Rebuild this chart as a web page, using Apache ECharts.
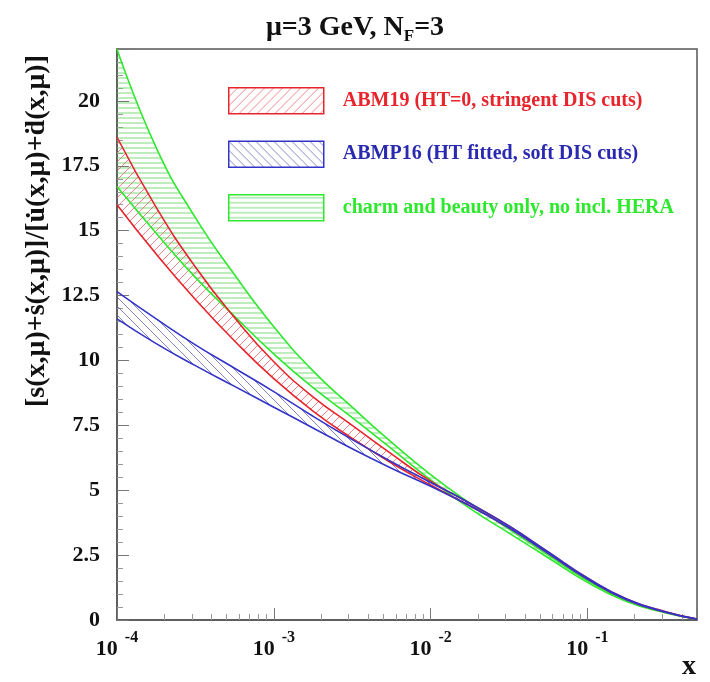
<!DOCTYPE html>
<html><head><meta charset="utf-8">
<script src="https://cdn.jsdelivr.net/npm/echarts@6/dist/echarts.min.js"></script>
<style>html,body{margin:0;padding:0;background:#fff}#c{width:710px;height:682px}</style>
</head><body><div id="c"></div>
<script>
// x positions (momentum fraction x), quarter-decade steps
const xVals = [1e-4, 1.778e-4, 3.162e-4, 5.623e-4, 1e-3, 1.778e-3, 3.162e-3, 5.623e-3,
               1e-2, 1.778e-2, 3.162e-2, 5.623e-2, 0.1, 0.1778, 0.3162, 0.5];
// band edges
const greenUp = [22.0, 18.2, 15.5, 13.3, 11.3, 9.60, 8.20, 6.85, 5.60, 4.50, 3.50, 2.50, 1.52, 0.75, 0.29, 0.04];
const greenLo = [16.7, 14.9, 13.2, 11.7, 10.25, 8.95, 7.80, 6.60, 5.40, 4.30, 3.35, 2.40, 1.45, 0.71, 0.27, 0.03];
const redUp   = [18.6, 15.9, 13.6, 11.65, 9.95, 8.60, 7.50, 6.40, 5.35, 4.50, 3.62, 2.62, 1.62, 0.81, 0.32, 0.04];
const redLo   = [16.0, 14.1, 12.35, 10.75, 9.30, 8.05, 7.00, 6.05, 5.20, 4.40, 3.55, 2.57, 1.58, 0.78, 0.30, 0.03];
const blueUp  = [12.65, 11.6, 10.6, 9.70, 8.80, 7.85, 6.95, 6.10, 5.30, 4.50, 3.62, 2.62, 1.62, 0.81, 0.31, 0.04];
const blueLo  = [11.6, 10.65, 9.80, 9.00, 8.20, 7.40, 6.60, 5.85, 5.15, 4.40, 3.55, 2.57, 1.58, 0.78, 0.30, 0.03];
const yTicks = [0, 2.5, 5, 7.5, 10, 12.5, 15, 17.5, 20];
const names = ['ABM19 (HT=0, stringent DIS cuts)', 'ABMP16 (HT fitted, soft DIS cuts)', 'charm and beauty only, no incl. HERA'];

const RED = '#e8242c', BLUE = '#3434c8', GREEN = '#2ee82e';
const SERIF = '"Liberation Serif","DejaVu Serif",serif';
const SMOOTH = 0.5;

function hatch(kind, color, size) {
  const c = document.createElement('canvas');
  c.width = size; c.height = size;
  const g = c.getContext('2d');
  g.strokeStyle = color; g.lineWidth = 1;
  g.beginPath();
  if (kind === 'fwd') { // ///
    g.moveTo(0, size); g.lineTo(size, 0);
    g.moveTo(-1, 1); g.lineTo(1, -1);
    g.moveTo(size - 1, size + 1); g.lineTo(size + 1, size - 1);
  } else if (kind === 'back') { // \\\
    g.moveTo(0, 0); g.lineTo(size, size);
    g.moveTo(size - 1, -1); g.lineTo(size + 1, 1);
    g.moveTo(-1, size - 1); g.lineTo(1, size + 1);
  } else { // horizontal
    g.moveTo(0, size / 2 + 0.5); g.lineTo(size, size / 2 + 0.5);
  }
  g.stroke();
  return { image: c, repeat: 'repeat' };
}
const patRed = hatch('fwd', 'rgba(232,90,100,0.75)', 9);
const patBlue = hatch('back', 'rgba(80,80,170,0.7)', 9);
const patGreen = hatch('horiz', 'rgba(90,210,90,0.8)', 5);

function pairs(arr) { return xVals.map((x, i) => [x, arr[i]]); }
// [y, x] ordering so that the stacked dimension is the y value
function pairsYX(arr) { return xVals.map((x, i) => [arr[i], x]); }
function diffYX(a, b) { return xVals.map((x, i) => [+(a[i] - b[i]).toFixed(4), x]); }

function band(name, stack, lo, up, color, pat) {
  return [
    { type: 'line', name: stack + '_base', stack: stack, data: pairsYX(lo), encode: { x: 1, y: 0 },
      smooth: SMOOTH, symbol: 'none', lineStyle: { opacity: 0 }, silent: true, z: 2 },
    { type: 'line', name: name, stack: stack, data: diffYX(up, lo), encode: { x: 1, y: 0 },
      smooth: SMOOTH, symbol: 'none', lineStyle: { opacity: 0 }, areaStyle: { color: pat, opacity: 1 },
      itemStyle: { color: color }, z: 2 },
    { type: 'line', name: stack + '_up', data: pairs(up), smooth: SMOOTH, symbol: 'none',
      lineStyle: { color: color, width: 1.6 }, z: 4 },
    { type: 'line', name: stack + '_lo', data: pairs(lo), smooth: SMOOTH, symbol: 'none',
      lineStyle: { color: color, width: 1.6 }, z: 4 }
  ];
}

const chart = echarts.init(document.getElementById('c'), null, { renderer: 'canvas' });
chart.setOption({
  backgroundColor: '#fff',
  animation: false,
  title: {
    left: 'center', top: 6,
    text: '{a|μ=3 GeV, N}{s|F}{a|=3}',
    textStyle: {
      rich: {
        a: { fontFamily: SERIF, fontWeight: 'bold', fontSize: 28, color: '#111', lineHeight: 34 },
        s: { fontFamily: SERIF, fontWeight: 'bold', fontSize: 17, color: '#111', verticalAlign: 'bottom', padding: [10, 0, 0, 0] }
      }
    }
  },
  grid: { left: 117, right: 13, top: 49, bottom: 62, show: true, borderColor: '#555', borderWidth: 1.5 },
  legend: {
    orient: 'vertical', left: 228, top: 87, itemWidth: 95, itemHeight: 26, itemGap: 26,
    icon: 'rect', selectedMode: false, padding: 0,
    data: [
      { name: names[0], itemStyle: { color: patRed, borderColor: RED, borderWidth: 1.5 }, textStyle: { color: RED } },
      { name: names[1], itemStyle: { color: patBlue, borderColor: BLUE, borderWidth: 1.5 }, textStyle: { color: '#2a2ab0' } },
      { name: names[2], itemStyle: { color: patGreen, borderColor: GREEN, borderWidth: 1.5 }, textStyle: { color: GREEN } }
    ],
    textStyle: { fontFamily: SERIF, fontWeight: 'bold', fontSize: 20, padding: [0, 0, 0, 14] }
  },
  xAxis: {
    type: 'log', logBase: 10, min: 1e-4, max: 0.5,
    axisLine: { lineStyle: { color: '#555', width: 1.5 } },
    axisTick: { inside: true, length: 12, lineStyle: { color: '#777' } },
    minorTick: { show: true, splitNumber: 9, length: 6, lineStyle: { color: '#999' } },
    splitLine: { show: false },
    axisLabel: {
      showMaxLabel: false, margin: 10,
      formatter: function (v) { const e = Math.round(Math.log10(v)); return '{b|10}{e|' + e + '}'; },
      rich: {
        b: { fontFamily: SERIF, fontWeight: 'bold', fontSize: 22, color: '#111', verticalAlign: 'bottom', lineHeight: 30 },
        e: { fontFamily: SERIF, fontWeight: 'bold', fontSize: 16, color: '#111', verticalAlign: 'top', padding: [0, 0, 0, 7] }
      }
    }
  },
  yAxis: {
    type: 'value', min: 0, max: 22, interval: 2.5,
    axisLine: { show: true, lineStyle: { color: '#555', width: 1.5 } },
    axisTick: { show: true, inside: true, length: 12, lineStyle: { color: '#777' } },
    minorTick: { show: true, splitNumber: 5, length: 6, lineStyle: { color: '#999' } },
    splitLine: { show: false },
    axisLabel: {
      showMaxLabel: false, margin: 17, color: '#111', fontFamily: SERIF, fontWeight: 'bold', fontSize: 22,
      formatter: function (v) { return yTicks.indexOf(v) >= 0 ? String(v) : ''; }
    }
  },
  graphic: [
    { type: 'text', x: 37, y: 231, rotation: Math.PI / 2,
      style: { text: '[s(x,μ)+ṡ(x,μ)]/[u̇(x,μ)+ḋ(x,μ)]', font: 'bold 28px ' + SERIF, fill: '#111', align: 'center', verticalAlign: 'middle' } },
    { type: 'text', x: 689, y: 667,
      style: { text: 'x', font: 'bold 28px ' + SERIF, fill: '#111', align: 'center', verticalAlign: 'middle' } }
  ],
  series: [].concat(
    band(names[2], 'g', greenLo, greenUp, GREEN, patGreen),
    band(names[0], 'r', redLo, redUp, RED, patRed),
    band(names[1], 'b', blueLo, blueUp, BLUE, patBlue)
  )
});
</script></body></html>
